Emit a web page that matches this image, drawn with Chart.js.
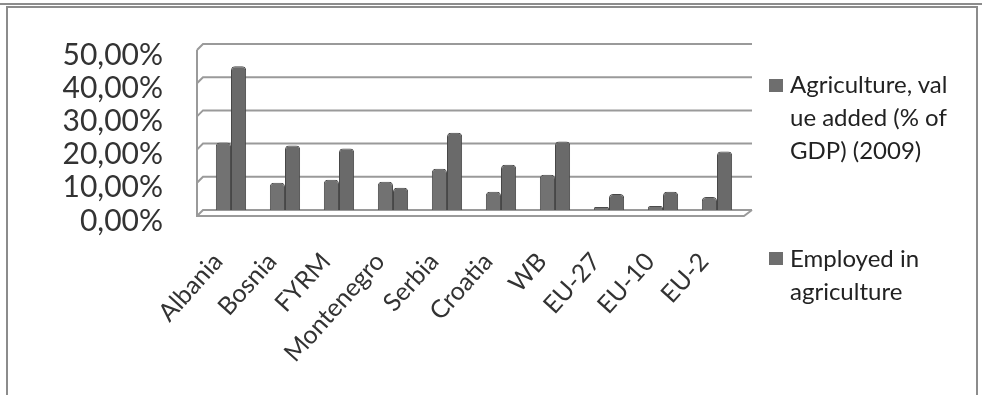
<!DOCTYPE html>
<html>
<head>
<meta charset="UTF-8">
<title>Agriculture chart</title>
<script src="https://cdn.jsdelivr.net/npm/chart.js"></script>
<style>
  html, body { margin: 0; padding: 0; background: #fff; }
  #wrap { position: relative; width: 982px; height: 395px; overflow: hidden; }
  #frame { position: absolute; left: 6px; top: 6px; width: 972px; height: 400px;
           border: 2px solid #8c8c8c; border-bottom: none; box-sizing: border-box; }
  #topline { position: absolute; left: 0; top: 3px; width: 982px; height: 2px; background: #8c8c8c; }
  #chart { position: absolute; left: 0; top: 0; }
  .leg { position: absolute; left: 769px; font-family: Lato, "Open Sans", sans-serif;
         font-size: 24px; line-height: 33px; color: #222; }
  .leg i { position: absolute; left: 0; width: 14px; height: 13px; background: #6e6e6e; }
  .leg span { position: absolute; left: 21px; white-space: nowrap; }
</style>
</head>
<body>
<div id="wrap">
  <div id="topline"></div>
  <div id="frame"></div>
  <canvas id="chart" width="982" height="395"></canvas>
  <div class="leg" style="top:67px"><i style="top:12px"></i><span>Agriculture, val<br>ue added (% of<br>GDP) (2009)</span></div>
  <div class="leg" style="top:241px"><i style="top:11px"></i><span>Employed in<br>agriculture</span></div>
</div>
<script>
  // data (percent)
  var categories = ['Albania', 'Bosnia', 'FYRM', 'Montenegro', 'Serbia', 'Croatia', 'WB', 'EU-27', 'EU-10', 'EU-2'];
  var valueAdded = [20.3, 8.2, 9.1, 8.5, 12.4, 5.5, 10.6, 0.9, 1.2, 3.9];
  var employed = [43.3, 19.4, 18.5, 6.7, 23.3, 13.6, 20.6, 4.8, 5.5, 17.6];
  var yTicks = [0, 10, 20, 30, 40, 50];

  // fake 3d wall / floor like the excel original
  var wallPlugin = {
    id: 'wall',
    beforeDatasetsDraw: function(chart) {
      var ctx = chart.ctx;
      var y = chart.scales.y;
      ctx.save();
      ctx.strokeStyle = '#9a9a9a';
      ctx.lineWidth = 2;
      yTicks.forEach(function(v) {
        var py = y.getPixelForValue(v);
        ctx.beginPath();
        ctx.moveTo(197, py + 6);
        ctx.lineTo(203, py);
        ctx.lineTo(752, py);
        ctx.stroke();
      });
      var top = y.getPixelForValue(50);
      var bot = y.getPixelForValue(0);
      ctx.beginPath();
      ctx.moveTo(197, top + 6);
      ctx.lineTo(197, bot + 6);
      ctx.lineTo(744, bot + 6);
      ctx.lineTo(752, bot);
      ctx.stroke();
      ctx.restore();
    }
  };

  new Chart(document.getElementById('chart'), {
    type: 'bar',
    data: {
      labels: categories,
      datasets: [
        { label: 'Agriculture, value added (% of GDP) (2009)', data: valueAdded,
          backgroundColor: '#727272', borderColor: '#4c4c4c', borderWidth: 1,
          borderRadius: { topLeft: 4, topRight: 4 }, borderSkipped: 'bottom' },
        { label: 'Employed in agriculture', data: employed,
          backgroundColor: '#6a6a6a', borderColor: '#474747', borderWidth: 1,
          borderRadius: { topLeft: 4, topRight: 4 }, borderSkipped: 'bottom' }
      ]
    },
    options: {
      responsive: false,
      animation: false,
      layout: { padding: { top: 44, right: 238, left: 0, bottom: 0 } },
      plugins: { legend: { display: false }, tooltip: { enabled: false } },
      datasets: { bar: { categoryPercentage: 0.56, barPercentage: 1.0 } },
      scales: {
        x: {
          grid: { display: false, drawTicks: false },
          border: { display: false },
          ticks: { minRotation: 48, maxRotation: 48, padding: 37, labelOffset: -13, color: '#333',
                   autoSkip: false, font: { family: 'Lato', size: 25 } },
          afterFit: function(s) { s.height = 185; s.paddingLeft = 0; s.paddingRight = 0; }
        },
        y: {
          min: 0, max: 50,
          grid: { display: false, drawTicks: false },
          border: { display: false },
          afterBuildTicks: function(s) { s.ticks = yTicks.map(function(v) { return { value: v }; }); },
          ticks: { padding: 41, labelOffset: 11, color: '#333', autoSkip: false,
                   font: { family: 'Lato', size: 30 },
                   callback: function(v) { return v.toFixed(2).replace('.', ',') + '%'; } },
          afterFit: function(s) { s.width = 204; s.paddingTop = 0; s.paddingBottom = 0; }
        }
      }
    },
    plugins: [wallPlugin]
  });
</script>
</body>
</html>
